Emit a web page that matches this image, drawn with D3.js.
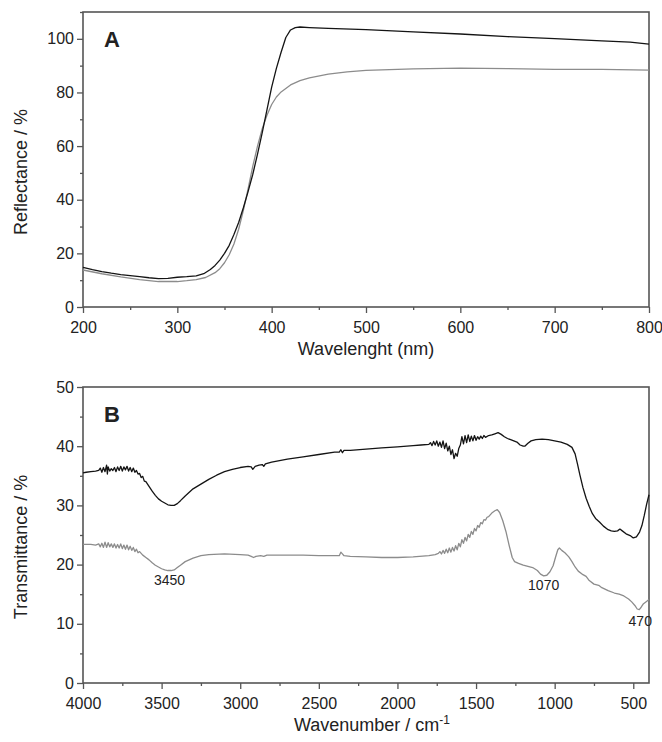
<!DOCTYPE html>
<html>
<head>
<meta charset="utf-8">
<title>Reflectance and transmittance</title>
<script src="https://cdn.jsdelivr.net/npm/d3@7"></script>
<style>
  body { margin: 0; background: #fff; }
  svg text { font-family: "Liberation Sans", Arial, sans-serif; fill: #222; }
</style>
</head>
<body>
<svg id="chart" width="662" height="742"></svg>
<script>
// panel A : diffuse reflectance, [wavelength nm, reflectance %]
var reflDark = [[200,14.8],[210,13.9],[220,13.2],[230,12.6],[240,12.1],[250,11.7],[260,11.3],[270,10.9],[280,10.6],[290,10.7],
  [300,11.1],[310,11.3],[320,11.6],[328,12.4],[335,14],[340,15.5],[345,17.5],[350,20],[355,23],[360,27],[365,31.5],[370,37],
  [375,43],[380,49.5],[385,57],[390,65],[395,73.5],[400,82],[405,89],[410,95],[415,100.5],[420,103.3],[425,104.2],[430,104.4],
  [440,104.2],[460,103.9],[500,103.4],[550,102.6],[600,101.8],[650,100.8],[700,100.1],[750,99.2],[780,98.8],[800,98]];
var reflGrey = [[200,13.8],[220,12.4],[240,11.2],[260,10.2],[280,9.5],[300,9.5],[310,9.8],[320,10.2],[330,11],[340,12.8],
  [345,14.3],[350,16.5],[355,19.5],[360,23.5],[365,29],[370,36],[375,44],[380,52.5],[385,60],[390,66.5],[395,71.5],[400,75.5],
  [405,78.3],[410,80.2],[420,82.8],[430,84.4],[440,85.4],[460,86.8],[480,87.7],[500,88.2],[550,88.8],[600,89.1],[650,88.9],
  [700,88.6],[750,88.6],[800,88.3]];

// panel B : FTIR, [wavenumber cm-1, transmittance %]
var irDark = [[4000,35.5],[3980,35.6],[3950,35.7],[3920,35.8],[3900,35.9],[3890,36.3],[3880,35.6],[3870,36.4],[3860,35.7],
  [3850,36.8],[3845,35.3],[3840,36.5],[3830,35.8],[3820,36.2],[3810,35.9],[3800,36.4],[3790,35.7],[3780,36.5],[3770,35.9],
  [3760,36.6],[3750,35.8],[3740,36.5],[3730,36.0],[3720,36.6],[3710,35.8],[3700,36.4],[3690,35.7],[3680,36.3],[3670,35.6],
  [3660,35.9],[3650,35.3],[3640,35.4],[3630,34.7],[3620,34.9],[3610,34.1],[3600,34.0],[3580,33.2],[3560,32.4],[3540,31.7],
  [3520,31.1],[3500,30.7],[3480,30.4],[3460,30.1],[3440,30.0],[3420,30.0],[3400,30.3],[3380,30.8],[3350,31.6],[3300,32.8],
  [3250,33.6],[3200,34.4],[3150,35.1],[3100,35.7],[3050,36.1],[3000,36.4],[2950,36.6],[2930,36.5],[2920,36.1],[2905,36.6],
  [2880,36.8],[2860,36.9],[2850,36.6],[2840,37.0],[2800,37.3],[2700,37.8],[2600,38.2],[2500,38.6],[2400,39.0],[2370,39.0],
  [2360,39.4],[2350,38.9],[2340,39.3],[2300,39.3],[2200,39.5],[2100,39.7],[2000,39.9],[1900,40.1],[1850,40.2],[1800,40.3],
  [1790,40.6],[1780,40.1],[1770,40.8],[1760,40.2],[1750,40.9],[1740,40.0],[1730,40.7],[1720,39.8],[1710,40.9],[1700,39.6],
  [1690,40.5],[1680,39.2],[1670,40.0],[1660,38.6],[1650,39.4],[1640,37.9],[1630,38.8],[1620,38.3],[1610,39.6],[1600,40.2],
  [1590,41.6],[1580,40.4],[1570,41.8],[1560,40.6],[1550,41.9],[1540,40.8],[1530,41.7],[1520,40.9],[1510,41.8],[1500,41.0],
  [1490,41.6],[1480,41.2],[1470,41.7],[1460,41.3],[1450,41.8],[1440,41.5],[1420,41.8],[1400,41.9],[1380,42.1],[1360,42.3],
  [1340,42.0],[1320,41.6],[1300,41.3],[1280,41.1],[1260,40.9],[1240,40.7],[1220,40.2],[1200,40.0],[1190,40.0],[1170,40.5],
  [1150,40.9],[1120,41.1],[1080,41.2],[1040,41.1],[1000,40.9],[960,40.7],[920,40.3],[890,39.8],[870,38.7],[855,37.0],
  [840,35.2],[820,33.0],[800,31.2],[780,29.8],[760,28.6],[740,27.8],[715,27.2],[690,26.5],[660,25.9],[640,25.7],[620,25.6],
  [600,25.7],[585,26.0],[570,25.7],[546,25.2],[520,24.9],[500,24.5],[480,24.7],[460,25.5],[445,26.6],[430,28.3],[415,30.2],
  [400,31.8]];
var irGrey = [[4000,23.4],[3950,23.4],[3920,23.3],[3900,23.5],[3890,23.0],[3880,23.6],[3870,22.9],[3860,23.8],[3850,22.9],
  [3840,23.7],[3830,23.0],[3820,23.5],[3810,22.9],[3800,23.5],[3790,22.8],[3780,23.4],[3770,22.8],[3760,23.5],[3750,22.7],
  [3740,23.3],[3730,22.6],[3720,23.3],[3710,22.5],[3700,23.1],[3690,22.4],[3680,22.9],[3670,22.2],[3660,22.6],[3650,22.0],
  [3640,22.2],[3620,21.6],[3600,21.2],[3580,20.8],[3560,20.3],[3540,19.9],[3520,19.6],[3500,19.3],[3480,19.1],[3460,19.0],
  [3440,19.0],[3420,19.1],[3400,19.5],[3380,19.9],[3350,20.5],[3300,21.1],[3250,21.5],[3200,21.7],[3100,21.8],[3000,21.7],
  [2950,21.6],[2930,21.4],[2915,21.2],[2900,21.4],[2870,21.5],[2850,21.4],[2830,21.6],[2800,21.6],[2700,21.6],[2600,21.6],
  [2500,21.5],[2400,21.5],[2370,21.5],[2360,22.1],[2350,21.8],[2340,21.5],[2300,21.4],[2200,21.3],[2100,21.2],[2000,21.2],
  [1900,21.3],[1800,21.5],[1760,21.7],[1740,21.9],[1730,22.2],[1720,21.8],[1710,22.4],[1700,21.9],[1690,22.6],[1680,22.0],
  [1670,22.8],[1660,22.1],[1650,22.9],[1640,22.3],[1630,23.2],[1620,22.5],[1610,23.6],[1600,23.0],[1590,24.2],[1580,23.6],
  [1570,24.6],[1560,24.0],[1550,25.1],[1540,24.6],[1530,25.6],[1520,25.1],[1510,26.1],[1500,25.7],[1490,26.6],[1480,26.3],
  [1470,27.1],[1460,26.9],[1450,27.6],[1440,27.5],[1430,28.0],[1420,28.1],[1410,28.4],[1400,28.7],[1380,29.1],[1365,29.3],
  [1350,28.8],[1330,27.4],[1310,25.6],[1290,23.3],[1270,21.2],[1255,20.5],[1230,20.2],[1200,19.9],[1170,19.7],[1140,19.5],
  [1110,19.0],[1090,18.4],[1070,18.1],[1050,18.2],[1030,18.8],[1010,19.8],[995,21.2],[980,22.5],[970,22.8],[955,22.4],
  [935,22.0],[910,21.3],[890,20.5],[870,19.6],[850,18.9],[820,18.3],[800,18.0],[780,17.3],[750,16.7],[720,16.5],[700,16.1],
  [660,15.6],[620,15.2],[590,15.0],[560,14.7],[530,14.2],[510,13.7],[490,13.1],[475,12.5],[462,12.4],[450,12.8],[435,13.4],
  [420,13.7],[400,14.1]];

var ticksAx = [200, 300, 400, 500, 600, 700, 800];
var ticksAy = [0, 20, 40, 60, 80, 100];
var ticksBx = [4000, 3500, 3000, 2500, 2000, 1500, 1000, 500];
var ticksBy = [0, 10, 20, 30, 40, 50];
var bandLabels = [[3450, 19.0, "3450"], [1070, 18.1, "1070"], [462, 12.4, "470"]];

var svg = d3.select("#chart");
var boxColor = "#555";

function panel(opt) {
  var x = d3.scaleLinear().domain(opt.xDom).range([83, 649]);
  var y = d3.scaleLinear().domain(opt.yDom).range([opt.bottom, opt.top]);
  var g = svg.append("g");

  // minor ticks
  g.append("g").attr("transform", "translate(0," + opt.bottom + ")")
    .call(d3.axisBottom(x).tickValues(opt.xMinor).tickSize(3).tickFormat(""))
    .call(s => s.select(".domain").remove());
  g.append("g").attr("transform", "translate(83,0)")
    .call(d3.axisLeft(y).tickValues(opt.yMinor).tickSize(3).tickFormat(""))
    .call(s => s.select(".domain").remove());

  // major ticks
  var xa = g.append("g").attr("transform", "translate(0," + opt.bottom + ")")
    .call(d3.axisBottom(x).tickValues(opt.xTicks).tickSize(6).tickPadding(9).tickFormat(d3.format("d")));
  var ya = g.append("g").attr("transform", "translate(83,0)")
    .call(d3.axisLeft(y).tickValues(opt.yTicks).tickSize(6).tickPadding(3).tickFormat(d3.format("d")));
  [xa, ya].forEach(a => {
    a.select(".domain").remove();
    a.selectAll("text").attr("font-size", 16).attr("fill", "#222")
      .attr("font-family", "Liberation Sans, Arial, sans-serif");
  });
  g.selectAll(".tick line").attr("stroke", boxColor).attr("stroke-width", 1.3);

  g.append("rect").attr("x", 83).attr("y", opt.top)
    .attr("width", 649 - 83).attr("height", opt.bottom - opt.top)
    .attr("fill", "none").attr("stroke", boxColor).attr("stroke-width", 1.6);

  var line = d3.line().x(d => x(d[0])).y(d => y(d[1]));
  opt.series.forEach(s => {
    g.append("path").datum(s.data).attr("d", line)
      .attr("fill", "none").attr("stroke", s.color).attr("stroke-width", 1.3)
      .attr("stroke-linejoin", "round");
  });

  g.append("text").attr("x", 112).attr("y", opt.top + 35).attr("text-anchor", "middle")
    .attr("font-size", 22).attr("font-weight", "bold").attr("fill", "#111").text(opt.letter);

  g.append("text").attr("transform", "translate(27," + opt.yTitleY + ") rotate(-90)")
    .attr("text-anchor", "middle").attr("font-size", 18).text(opt.yTitle);

  return { g: g, x: x, y: y };
}

var pa = panel({
  xDom: [200, 800], yDom: [0, 110], top: 12, bottom: 307,
  xTicks: ticksAx, yTicks: ticksAy,
  xMinor: [250, 350, 450, 550, 650, 750], yMinor: [10, 30, 50, 70, 90, 110],
  series: [{ data: reflGrey, color: "#8c8c8c" }, { data: reflDark, color: "#141414" }],
  letter: "A", yTitle: "Reflectance / %", yTitleY: 172
});
pa.g.append("text").attr("x", 366).attr("y", 355).attr("text-anchor", "middle")
  .attr("font-size", 18).text("Wavelenght (nm)");

var pb = panel({
  xDom: [4000, 400], yDom: [0, 50], top: 387, bottom: 683,
  xTicks: ticksBx, yTicks: ticksBy,
  xMinor: [3750, 3250, 2750, 2250, 1750, 1250, 750], yMinor: [5, 15, 25, 35, 45],
  series: [{ data: irGrey, color: "#8c8c8c" }, { data: irDark, color: "#141414" }],
  letter: "B", yTitle: "Transmittance / %", yTitleY: 547
});
var xt = pb.g.append("text").attr("x", 372).attr("y", 731).attr("text-anchor", "middle").attr("font-size", 18);
xt.append("tspan").text("Wavenumber / cm");
xt.append("tspan").attr("dy", -7).attr("font-size", 12).text("-1");

pb.g.selectAll(".band").data(bandLabels).enter().append("text")
  .attr("class", "band")
  .attr("x", d => pb.x(d[0]) + (d[2] === "470" ? 1 : 0))
  .attr("y", d => pb.y(d[1]) + (d[2] === "470" ? 16 : 14))
  .attr("text-anchor", "middle").attr("font-size", 14).text(d => d[2]);
</script>
</body>
</html>
